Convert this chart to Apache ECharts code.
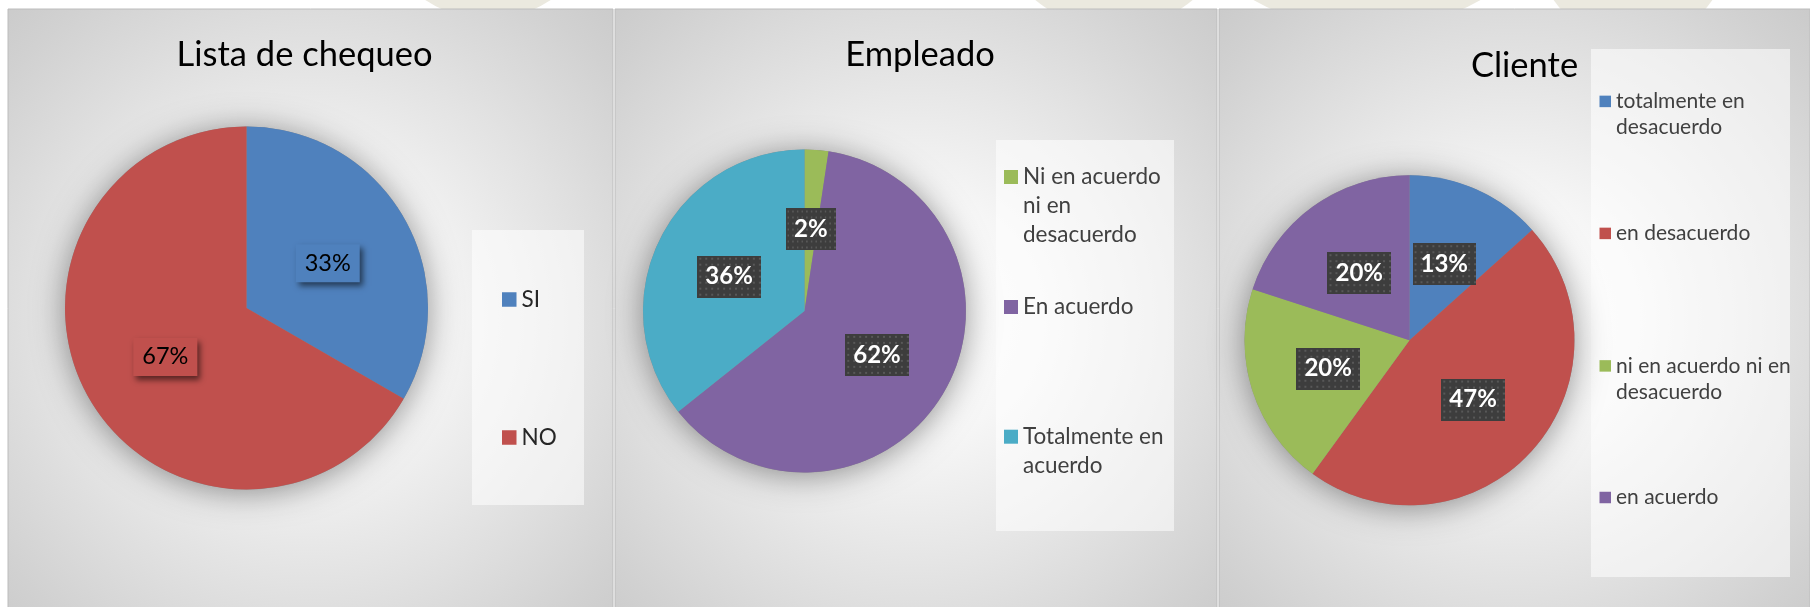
<!DOCTYPE html>
<html><head><meta charset="utf-8">
<script src="https://cdn.jsdelivr.net/npm/echarts@6/dist/echarts.min.js"></script>
<style>html,body{margin:0;padding:0;background:#fff;}#c{width:1810px;height:607px;}</style>
</head><body><div id="c"></div>
<script>
// ---------- DATA ----------
const titles = ['Lista de chequeo', 'Empleado', 'Cliente'];

const checklistCategories = ['SI', 'NO'];
const checklistValues = [1, 2];

const employeeCategories = ['Ni en acuerdo ni en desacuerdo', 'En acuerdo', 'Totalmente en acuerdo'];
const employeeValues = [1, 26, 15];

const clientCategories = ['totalmente en desacuerdo', 'en desacuerdo', 'ni en acuerdo ni en desacuerdo', 'en acuerdo'];
const clientValues = [2, 7, 3, 3];

// legend text as wrapped in the reference
const checklistLegendLines = [['SI'], ['NO']];
const employeeLegendLines = [['Ni en acuerdo', 'ni en', 'desacuerdo'], ['En acuerdo'], ['Totalmente en', 'acuerdo']];
const clientLegendLines = [['totalmente en', 'desacuerdo'], ['en desacuerdo'], ['ni en acuerdo ni en', 'desacuerdo'], ['en acuerdo']];

// ---------- STYLES ----------
const checklistColors = ['#4f81bd', '#c0504d'];
const employeeColors = ['#9bbb59', '#8064a2', '#4bacc6'];
const clientColors = ['#4f81bd', '#c0504d', '#9bbb59', '#8064a2'];
const FONT = 'Lato';

// ---------- LAYOUT ----------
const panels = [
  { cats: checklistCategories, vals: checklistValues, colors: checklistColors, lines: checklistLegendLines,
    x: 8, w: 605, center: [246.5, 308], r: 181.5, titleX: 304.5, titleTop: 37,
    box: [472, 230, 112, 275], legLeft: 502, icon: 14.5, legCenters: [299.5, 437.5], fs: 22.5, lh: 28,
    legColor: '#262626', labelMode: 'plain' },
  { cats: employeeCategories, vals: employeeValues, colors: employeeColors, lines: employeeLegendLines,
    x: 615, w: 602, center: [804.5, 311], r: 161.5, titleX: 920, titleTop: 37,
    box: [996, 140, 178, 391], legLeft: 1004, icon: 14, legCenters: [177, 307, 436.7], fs: 22.5, lh: 29,
    legColor: '#404040', labelMode: 'dark' },
  { cats: clientCategories, vals: clientValues, colors: clientColors, lines: clientLegendLines,
    x: 1219, w: 591, center: [1409.5, 340.3], r: 165, titleX: 1524.5, titleTop: 48,
    box: [1591, 49, 199, 528], legLeft: 1599.5, icon: 11.5, legCenters: [101.4, 233.4, 365.9, 497.5], fs: 21, lh: 26.3,
    legColor: '#404040', labelMode: 'dark' }
];

// dotted dark label background
function dotCanvas() {
  const c = document.createElement('canvas');
  c.width = 64; c.height = 42;
  const g = c.getContext('2d');
  g.fillStyle = '#3d3d3d'; g.fillRect(0, 0, 64, 42);
  g.fillStyle = '#585858';
  for (let y = 2; y < 42; y += 6) for (let x = 2; x < 64; x += 6) g.fillRect(x, y, 2, 2);
  return c;
}
const dots = dotCanvas();

const title = [], series = [], legend = [], graphics = [];

// watermark shapes behind the top edge
[[488, -94, 113], [1114, -92, 121], [1367, -200, 230], [1633, -54, 96]].forEach((c, i) => {
  graphics.push({ type: 'circle', z: 0, z2: i, silent: true, shape: { cx: c[0], cy: c[1], r: c[2] }, style: { fill: '#ebe9df' } });
});

panels.forEach((p, pi) => {
  graphics.push({
    type: 'rect', z: 0, z2: 10 + pi, silent: true,
    shape: { x: p.x, y: 9, width: p.w, height: 620 },
    style: {
      fill: { type: 'radial', x: 0.5, y: 0.5, r: 0.8, colorStops: [
        { offset: 0, color: '#ffffff' }, { offset: 0.25, color: '#f6f6f6' },
        { offset: 0.55, color: '#e2e2e2' }, { offset: 0.8, color: '#d1d1d1' }, { offset: 1, color: '#c5c5c5' }] },
      stroke: '#bcbcbc', lineWidth: 1
    }
  });
  graphics.push({
    type: 'rect', z: 0, z2: 20 + pi, silent: true,
    shape: { x: p.box[0], y: p.box[1], width: p.box[2], height: p.box[3] },
    style: { fill: 'rgba(255,255,255,0.55)' }
  });

  title.push({
    text: titles[pi], left: p.titleX, top: p.titleTop, textAlign: 'center', padding: 0,
    textStyle: { fontFamily: FONT, fontSize: 34.5, fontWeight: 'normal', color: '#000' }
  });

  const total = p.vals.reduce((a, b) => a + b, 0);
  series.push({
    type: 'pie', center: p.center, radius: p.r, silent: true, z: 1, animation: false,
    data: [{ name: '_shadow' + pi, value: total }],
    itemStyle: { color: '#8a8a8a', borderWidth: 0, shadowBlur: 32, shadowColor: 'rgba(0,0,0,0.42)', shadowOffsetY: 3 },
    label: { show: false }, labelLine: { show: false }, emphasis: { disabled: true }, tooltip: { show: false }
  });

  const plain = p.labelMode === 'plain';
  series.push({
    type: 'pie', center: p.center, radius: p.r, startAngle: 90, clockwise: true, z: 3, animation: false,
    data: p.cats.map((c, i) => ({
      name: c, value: p.vals[i], itemStyle: { color: p.colors[i] },
      label: plain ? { backgroundColor: p.colors[i] } : {}
    })),
    itemStyle: { borderWidth: 0 },
    label: plain ? {
      show: true, position: 'inside', formatter: (q) => Math.round(q.percent) + '%',
      fontFamily: FONT, fontSize: 23.5, fontWeight: 'normal', color: '#000', lineHeight: 24,
      padding: [7, 9], offset: [0, 2], shadowColor: 'rgba(0,0,0,0.55)', shadowBlur: 6, shadowOffsetX: 3, shadowOffsetY: 4
    } : {
      show: true, position: 'inside', formatter: (q) => Math.round(q.percent) + '%',
      fontFamily: FONT, fontSize: 24, fontWeight: 'bold', color: '#fff', lineHeight: 26,
      padding: [8, 8], offset: [0, 2], backgroundColor: { image: dots },
      shadowColor: 'rgba(0,0,0,0.6)', shadowBlur: 6, shadowOffsetX: 3, shadowOffsetY: 4
    },
    labelLine: { show: false }, emphasis: { disabled: true }
  });

  p.cats.forEach((c, i) => {
    const lines = p.lines[i];
    const n = lines.length;
    const H = Math.max((2 * n - 1) * p.lh, p.icon);
    // blank lines before the text keep the marker level with the first line
    const text = '\n'.repeat(n - 1) + lines.join('\n');
    legend.push({
      data: [c], left: p.legLeft, top: p.legCenters[i] - H / 2, orient: 'vertical', padding: 0,
      itemWidth: p.icon, itemHeight: p.icon, icon: 'rect', selectedMode: false,
      formatter: () => text,
      textStyle: { fontFamily: FONT, fontSize: p.fs, lineHeight: p.lh, color: p.legColor }
    });
  });
});

const chart = echarts.init(document.getElementById('c'), null, { renderer: 'canvas' });
chart.setOption({
  backgroundColor: '#ffffff',
  animation: false,
  title, legend, series,
  graphic: { elements: graphics }
});
</script></body></html>
